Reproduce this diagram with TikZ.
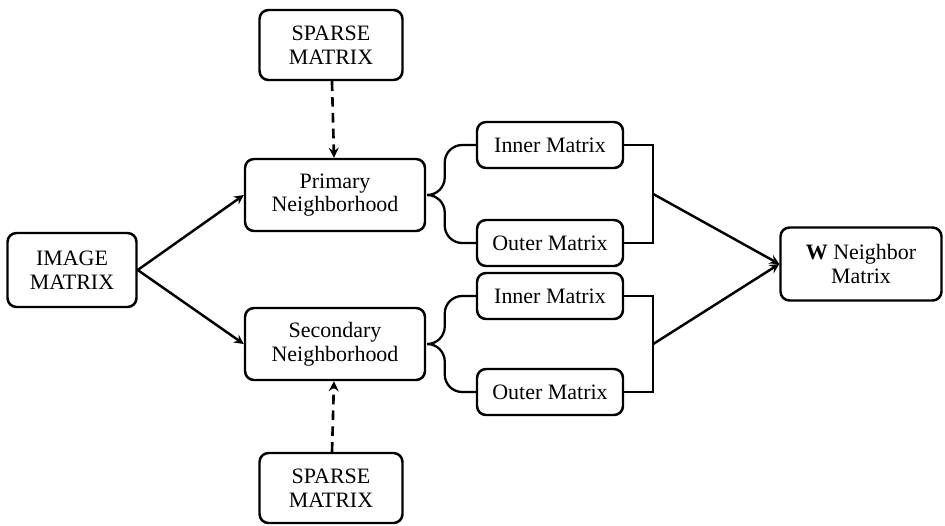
\documentclass[tikz,border=0pt]{standalone}
\usepackage{fontspec}
\setmainfont{Liberation Serif}
\usepackage{xcolor}
\usepackage{tikz}
\usetikzlibrary{arrows, positioning}

\begin{document}
\begin{tikzpicture}[>=stealth,
    box/.style={draw, line width=1.4pt, rounded corners=0.18cm, align=center,
        font=\fontsize{12.5}{13.5}\selectfont, inner sep=2pt},
    bigbox/.style={box, minimum width=3.6cm, minimum height=1.44cm},
    smallbox/.style={box, minimum width=2.92cm, minimum height=0.92cm},
    line/.style={line width=1.4pt},
    brace/.style={line width=1.3pt, rounded corners=0.35cm},
    dashline/.style={line width=1.5pt, dash pattern=on 5.5pt off 3.5pt}]
            \useasboundingbox (0,0) rectangle (18.9,-10.5);

            \node[box, minimum width=2.58cm, minimum height=1.48cm] (img) at (1.44,-5.4) {IMAGE\\MATRIX};
            \node[bigbox, right of=img, xshift=4.26cm, yshift=1.5cm] (prim) {Primary\\Neighborhood};
            \node[bigbox, below of=prim, yshift=-1.98cm] (sec) {Secondary\\Neighborhood};
            \node[box, minimum width=2.86cm, minimum height=1.4cm, above of=prim, xshift=-0.08cm, yshift=2cm] (sp1) {SPARSE\\MATRIX};
            \node[box, minimum width=2.86cm, minimum height=1.4cm, below of=sec, xshift=-0.08cm, yshift=-1.88cm] (sp2) {SPARSE\\MATRIX};

            \node[smallbox, right of=prim, xshift=3.3cm, yshift=1cm] (in1) {Inner Matrix};
            \node[smallbox, below of=in1, yshift=-0.96cm] (out1) {Outer Matrix};
            \node[smallbox, below of=out1, yshift=-0.06cm] (in2) {Inner Matrix};
            \node[smallbox, below of=in2, yshift=-0.92cm] (out2) {Outer Matrix};

            \node[box, minimum width=3.22cm, minimum height=1.46cm, right of=out1, xshift=5.22cm, yshift=-0.42cm] (w) {\textbf{W} Neighbor\\Matrix};

            \draw[line, ->] (img.east) -- (prim.west);
            \draw[line, ->] (img.east) -- (sec.west);
            \draw[dashline, ->] (sp1) -- (prim);
            \draw[dashline, ->] (sp2) -- (sec);

            \draw[brace] (prim.east) ++(0.03,0) -- ++(0.34,0) |- (in1.west);
            \draw[brace] (prim.east) ++(0.03,0) -- ++(0.34,0) |- (out1.west);
            \draw[brace] (sec.east) ++(0.03,0) -- ++(0.34,0) |- (in2.west);
            \draw[brace] (sec.east) ++(0.03,0) -- ++(0.34,0) |- (out2.west);

            \draw[line] (in1.east) -- ++(0.58,0) |- (out1.east) node[coordinate, pos=0.25] (m1) {};
            \draw[line] (in2.east) -- ++(0.58,0) |- (out2.east) node[coordinate, pos=0.25] (m2) {};
            \draw[line, ->] (m1) -- (w.west);
            \draw[line, ->] (m2) -- (w.west);
        \end{tikzpicture}
\end{document}
